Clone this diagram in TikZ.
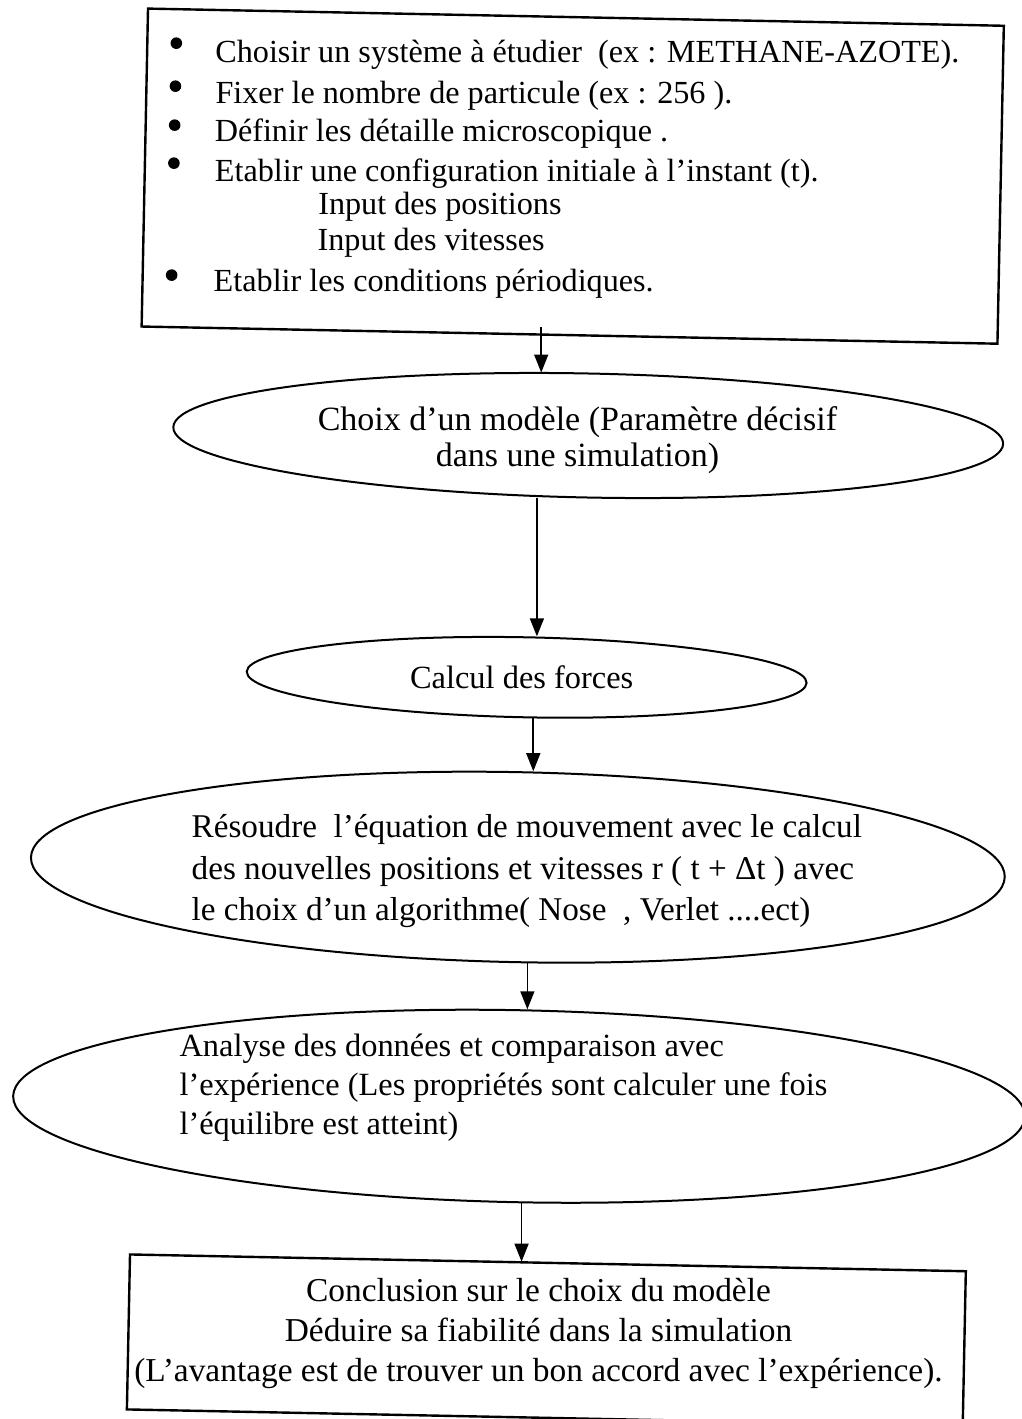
\documentclass[tikz,border=0pt]{standalone}
\usepackage{fontspec}
\setmainfont{Liberation Serif}
\usetikzlibrary{shapes.geometric,arrows.meta}
\begin{document}
\begin{tikzpicture}[x=0.5pt,y=-0.5pt,
  box/.style={draw, line width=1.2pt, rectangle, inner sep=0pt, transform shape},
  ell/.style={draw, line width=1pt, ellipse, inner sep=0pt, transform shape},
  dot/.style={fill, circle, inner sep=0pt, minimum size=5.8pt},
  txt/.style={inner sep=0pt, font=\fontsize{16.1pt}{19.5pt}\selectfont},
  arr/.style={line width=0.8pt, -{Triangle[length=9pt,width=7pt]}}]
\clip (0,0) rectangle (1022,1419);
\begin{scope}[rotate around={-1.15:(511,710)}]
% top box
\node[box, minimum width=428pt, minimum height=159pt] (top) at (562,175) {};
\node[dot] (d1) at (163,50) {};
\node[dot] (d2) at (163,93) {};
\node[dot] (d3) at (163,132) {};
\node[dot] (d4) at (163,170) {};
\node[dot] (d7) at (163,282) {};
\node[txt, anchor=base west] (l1) at (202,68.4) {Choisir un système à étudier\ \ (ex : METHANE-AZOTE).};
\node[txt, anchor=base west] (l2) at (203,109.2) {Fixer le nombre de particule (ex : 256 ).};
\node[txt, anchor=base west] (l3) at (203,147.6) {Définir les détaille microscopique .};
\node[txt, anchor=base west] (l4) at (204,187.2) {Etablir une configuration initiale à l’instant (t).};
\node[txt, anchor=base west] (l5) at (308,218.5) {Input des positions};
\node[txt, anchor=base west] (l6) at (308,254.3) {Input des vitesses};
\node[txt, anchor=base west] (l7) at (205,297.7) {Etablir les conditions périodiques.};
% ellipse 1
\node[ell, minimum width=415pt, minimum height=62pt] (e1) at (582.7,434) {};
\node[txt, align=center, font=\fontsize{17pt}{18pt}\selectfont] (t1) at (572,439) {Choix d’un modèle (Paramètre décisif\\dans une simulation)};
% ellipse 2
\node[ell, minimum width=280pt, minimum height=40pt] (e2) at (526,677) {};
\node[txt, font=\fontsize{16.2pt}{19.5pt}\selectfont] (t2) at (521,677) {Calcul des forces};
% ellipse 3
\node[ell, minimum width=487pt, minimum height=95pt] (e3) at (521,867) {};
\node[txt, align=left, font=\fontsize{16.6pt}{20.75pt}\selectfont] (t3) at (530,871) {Résoudre\ \ l’équation de mouvement avec le calcul\\des nouvelles positions et vitesses r ( t + Δt ) avec\\le choix d’un algorithme( Nose\ \ , Verlet ....ect)};
% ellipse 4
\node[ell, minimum width=506pt, minimum height=96pt] (e4) at (527,1106) {};
\node[txt, align=left, font=\fontsize{16.2pt}{19.5pt}\selectfont] (t4) at (511,1088) {Analyse des données et comparaison avec\\l’expérience (Les propriétés sont calculer une fois\\l’équilibre est atteint)};
% conclusion box
\node[box, minimum width=418pt, minimum height=77.5pt] (bot) at (559,1339.5) {};
\node[txt, align=center, font=\fontsize{16.7pt}{20pt}\selectfont] (t5) at (551,1333) {Conclusion sur le choix du modèle\\Déduire sa fiabilité dans la simulation\\(L’avantage est de trouver un bon accord avec l’expérience).};
% arrow axis coordinates
\coordinate (x1) at (534,350);
\coordinate (x2) at (534,565);
\coordinate (x3) at (534,745);
\coordinate (x4) at (533,990);
\coordinate (x5) at (532,1230);
\end{scope}
\draw[arr] ([yshift=4.5pt]top.south -| x1) -- (e1.north -| x1);
\draw[arr] (e1.south -| x2) -- (e2.north -| x2);
\draw[arr] (e2.south -| x3) -- (e3.north -| x3);
\draw[arr] (e3.south -| x4) -- (e4.north -| x4);
\draw[arr] (e4.south -| x5) -- (bot.north -| x5);
\end{tikzpicture}
\end{document}
